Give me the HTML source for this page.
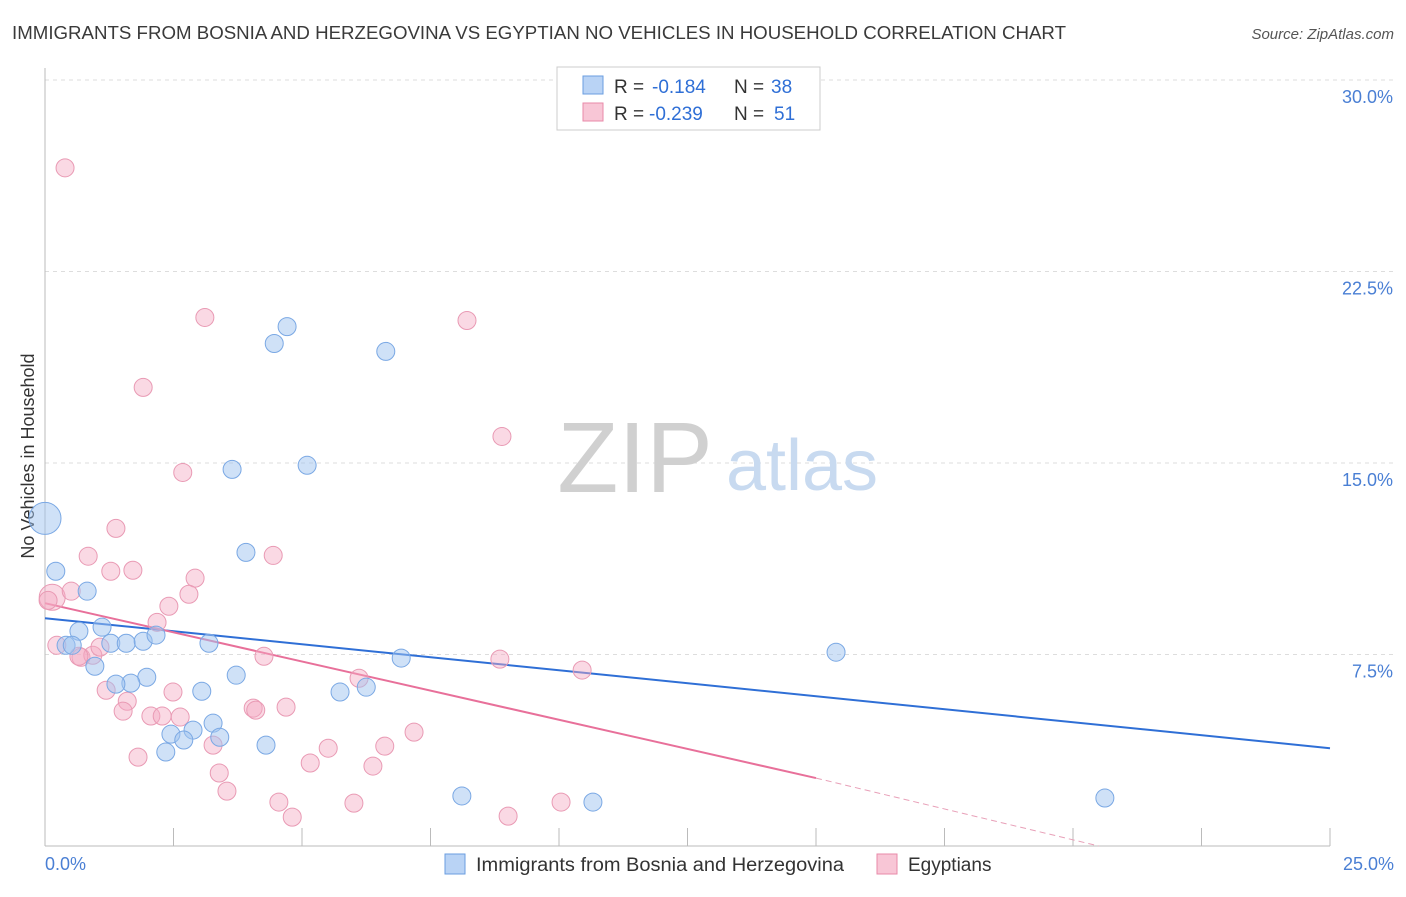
<!DOCTYPE html>
<html><head><meta charset="utf-8"><style>
body{margin:0;background:#fff;font-family:"Liberation Sans",sans-serif;}
svg text{font-family:"Liberation Sans",sans-serif;}
</style></head><body>
<svg id="chart" width="1406" height="892" viewBox="0 0 1406 892" xmlns="http://www.w3.org/2000/svg">
<text x="12" y="39" font-size="18.5" fill="#3a3a3a" textLength="1054" lengthAdjust="spacingAndGlyphs">IMMIGRANTS FROM BOSNIA AND HERZEGOVINA VS EGYPTIAN NO VEHICLES IN HOUSEHOLD CORRELATION CHART</text>
<text x="1394" y="39" font-size="15" fill="#555" text-anchor="end" font-style="italic">Source: ZipAtlas.com</text>
<g id="grid"></g>
<g>
<text x="635" y="492" font-size="100" fill="#d0d0d0" font-family="Liberation Serif" text-anchor="middle">ZIP</text>
<text x="802" y="490" font-size="72" fill="#c8daf0" text-anchor="middle">atlas</text>
</g>
<line x1="45" y1="68" x2="45" y2="846" stroke="#bbb"/>
<line x1="45" y1="846" x2="1330" y2="846" stroke="#bbb"/>
<g id="ticks"></g>
<text transform="translate(34,456) rotate(-90)" font-size="18" fill="#333" text-anchor="middle">No Vehicles in Household</text>
<text x="45" y="870" font-size="18" fill="#4a7fd4">0.0%</text>
<text x="1394" y="870" font-size="18" fill="#4a7fd4" text-anchor="end">25.0%</text>
<g id="lines"></g>
<g id="points"></g>
<g>
<rect x="557" y="67" width="263" height="63" fill="#fff" stroke="#ccc"/>
<rect x="583" y="76" width="20" height="18" fill="#b9d3f5" stroke="#6a9ee0"/>
<rect x="583" y="103" width="20" height="18" fill="#f8c6d6" stroke="#e88aa8"/>
<text x="614" y="93" font-size="19" fill="#333">R =</text>
<text x="652" y="93" font-size="19" fill="#2f6fd6">-0.184</text>
<text x="734" y="93" font-size="19" fill="#333">N =</text>
<text x="771" y="93" font-size="19" fill="#2f6fd6">38</text>
<text x="614" y="120" font-size="19" fill="#333">R =</text>
<text x="649" y="120" font-size="19" fill="#2f6fd6">-0.239</text>
<text x="734" y="120" font-size="19" fill="#333">N =</text>
<text x="774" y="120" font-size="19" fill="#2f6fd6">51</text>
</g>
<g>
<rect x="445" y="854" width="20" height="20" fill="#b9d3f5" stroke="#6a9ee0"/>
<text x="476" y="871" font-size="19" fill="#333" textLength="368" lengthAdjust="spacingAndGlyphs">Immigrants from Bosnia and Herzegovina</text>
<rect x="877" y="854" width="20" height="20" fill="#f8c6d6" stroke="#e88aa8"/>
<text x="908" y="871" font-size="19" fill="#333">Egyptians</text>
</g>
</svg>
<script>
const yTicks = [7.5, 15, 22.5, 30];
const yTickLabels = ["7.5%", "15.0%", "22.5%", "30.0%"];
const xTicks = [2.5,5,7.5,10,12.5,15,17.5,20,22.5,25];
const blueX = [0,0.21,0.82,0.66,1.11,0.41,0.53,0.97,1.28,1.58,1.91,2.16,1.98,1.67,1.38,3.19,3.72,3.05,3.27,2.88,2.45,2.70,2.35,3.40,3.91,3.64,4.30,4.46,4.71,5.10,5.74,6.25,6.63,6.93,8.11,10.66,15.39,20.62];
const blueY = [12.83,10.76,9.98,8.41,8.57,7.86,7.86,7.04,7.94,7.94,8.02,8.26,6.61,6.38,6.34,7.94,6.69,6.06,4.81,4.54,4.38,4.15,3.68,4.26,11.50,14.75,3.95,19.68,20.34,14.91,6.03,6.22,19.37,7.36,1.96,1.72,7.59,1.88];
const blueR = [16,9,9,9,9,9,9,9,9,9,9,9,9,9,9,9,9,9,9,9,9,9,9,9,9,9,9,9,9,9,9,9,9,9,9,9,9,9];
const pinkX = [0.39,0.14,0.06,0.23,0.51,0.84,1.38,1.28,1.71,0.70,0.93,1.07,1.19,1.60,1.52,2.18,2.41,1.91,2.68,3.11,2.92,2.80,2.49,2.06,2.28,2.63,3.27,3.39,3.54,4.26,4.05,4.10,4.69,4.44,4.55,4.81,5.16,5.51,6.01,6.11,6.38,6.61,7.18,8.21,8.89,8.85,9.01,10.04,10.45,0.66,1.81];
const pinkY = [26.56,9.74,9.62,7.86,9.98,11.35,12.44,10.76,10.80,7.39,7.47,7.79,6.10,5.67,5.28,8.76,9.39,17.96,14.63,20.70,10.49,9.86,6.03,5.09,5.09,5.05,3.95,2.86,2.15,7.43,5.40,5.32,5.44,11.38,1.72,1.13,3.25,3.83,1.68,6.57,3.13,3.91,4.46,20.58,16.04,7.32,1.17,1.72,6.89,7.43,3.48];
const pinkR = [9,13,9,9,9,9,9,9,9,9,9,9,9,9,9,9,9,9,9,9,9,9,9,9,9,9,9,9,9,9,9,9,9,9,9,9,9,9,9,9,9,9,9,9,9,9,9,9,9,9,9];
const blueTrend = [8.92, 3.83];
const pinkTrend = [9.51, 2.66, 15, 20.5];
const NS="http://www.w3.org/2000/svg";
const sx = v => 45 + v/25*1285;
const sy = v => 846 - v/30*766;
function mk(tag, attrs, parent){const e=document.createElementNS(NS,tag);for(const k in attrs)e.setAttribute(k,attrs[k]);parent.appendChild(e);return e;}
const grid=document.getElementById('grid'), ticks=document.getElementById('ticks');
yTicks.forEach((t,i)=>{
  const l=mk('line',{x1:45,x2:1394,y1:sy(t),y2:sy(t),stroke:'#ddd','stroke-dasharray':'4,4'},grid);
  
  
  const tx=mk('text',{x:1393,y:sy(t)+23,'font-size':18,fill:'#4a7fd4','text-anchor':'end'},ticks);
  tx.textContent=yTickLabels[i];
  
  
});
xTicks.forEach(t=>{
  const l=mk('line',{x1:sx(t),x2:sx(t),y1:828,y2:846,stroke:'#bbb'},ticks);
  
  
});
const lines=document.getElementById('lines');
let bl=mk('line',{x1:sx(0),y1:sy(blueTrend[0]),x2:sx(25),y2:sy(blueTrend[1]),stroke:'#2f6fd6','stroke-width':2},lines);


let pl=mk('line',{x1:sx(0),y1:sy(pinkTrend[0]),x2:sx(pinkTrend[2]),y2:sy(pinkTrend[1]),stroke:'#e8709a','stroke-width':2},lines);


let pd=mk('line',{x1:sx(pinkTrend[2]),y1:sy(pinkTrend[1]),x2:sx(pinkTrend[3]),y2:sy(0),stroke:'#e8a0b8','stroke-width':1,'stroke-dasharray':'6,4'},lines);


const pts=document.getElementById('points');
pinkX.forEach((x,i)=>{
  const c=mk('circle',{cx:sx(x),cy:sy(pinkY[i]),r:pinkR[i],fill:'rgba(244,170,196,0.45)',stroke:'#e99ab4','stroke-width':1},pts);
  
  
});
blueX.forEach((x,i)=>{
  const c=mk('circle',{cx:sx(x),cy:sy(blueY[i]),r:blueR[i],fill:'rgba(160,196,240,0.5)',stroke:'#7aa8e4','stroke-width':1},pts);
  
  
});
</script>
</body></html>
